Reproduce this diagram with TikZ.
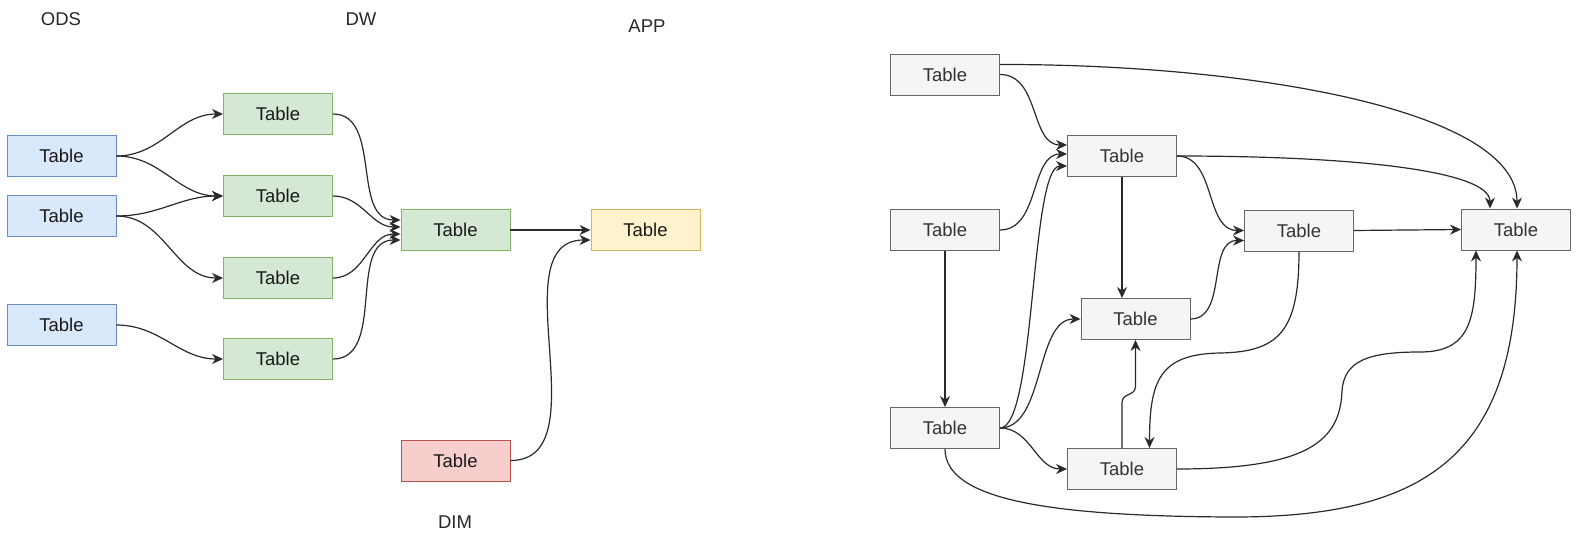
\documentclass[tikz,border=0pt]{standalone}
\usepackage{fontspec}
\setmainfont{Liberation Sans}
\usetikzlibrary{arrows.meta}
\definecolor{bfill}{HTML}{DAE8FC}\definecolor{bline}{HTML}{6C8EBF}
\definecolor{gfill}{HTML}{D5E8D4}\definecolor{gline}{HTML}{82B366}
\definecolor{yfill}{HTML}{FFF2CC}\definecolor{yline}{HTML}{D6B656}
\definecolor{rfill}{HTML}{F8CECC}\definecolor{rline}{HTML}{B85450}
\definecolor{sfill}{HTML}{F5F5F5}\definecolor{sline}{HTML}{666666}
\definecolor{stext}{HTML}{333333}\definecolor{edge}{HTML}{2A2A2A}
\tikzset{
  tbl/.style={draw, line width=0.9pt, minimum width=109pt, minimum height=41pt, inner sep=0pt,
    font=\fontsize{18.5}{20}\selectfont, text=black!90},
  bluebox/.style={tbl, fill=bfill, draw=bline},
  greenbox/.style={tbl, fill=gfill, draw=gline},
  yellowbox/.style={tbl, fill=yfill, draw=yline},
  redbox/.style={tbl, fill=rfill, draw=rline},
  graybox/.style={tbl, fill=sfill, draw=sline, text=stext},
  lbl/.style={font=\fontsize{18.5}{20}\selectfont, text=black!85, inner sep=0pt},
  arr/.style={draw=edge, line width=1.2pt, -{Stealth[length=11pt,width=10pt,inset=3.5pt]}}
}
\begin{document}
\begin{tikzpicture}[x=1pt,y=-1pt]
\useasboundingbox (0,0) rectangle (1583,543);
% ---------- left diagram ----------
\node[lbl] (lods) at (61,19.5) {ODS};
\node[lbl] (ldw) at (361,19.5) {DW};
\node[lbl] (lapp) at (647,26) {APP};
\node[lbl] (ldim) at (455,522.5) {DIM};
\node[bluebox] (o1) at (61.5,156) {Table};
\node[bluebox] (o2) at (61.5,216) {Table};
\node[bluebox] (o3) at (61.5,325) {Table};
\node[greenbox] (w1) at (278,114) {Table};
\node[greenbox] (w2) at (278,196) {Table};
\node[greenbox] (w3) at (278,278) {Table};
\node[greenbox] (w4) at (278,359) {Table};
\node[greenbox] (wm) at (455.5,230) {Table};
\node[yellowbox] (app) at (645.5,230) {Table};
\node[redbox] (dim) at (455.5,460.5) {Table};
\draw[arr] (o1.east) to[out=0,in=180] (w1.west);
\draw[arr] (o1.east) to[out=0,in=180] (w2.west);
\draw[arr] (o2.east) to[out=0,in=180] (w2.west);
\draw[arr] (o2.east) to[out=0,in=180] (w3.west);
\draw[arr] (o3.east) to[out=0,in=180] (w4.west);
\draw[arr] (w1.east) to[out=0,in=180] ([yshift=10pt]wm.west);
\draw[arr] (w2.east) to[out=0,in=180] ([yshift=3pt]wm.west);
\draw[arr] (w3.east) to[out=0,in=180] ([yshift=-4pt]wm.west);
\draw[arr] (w4.east) to[out=0,in=180] ([yshift=-10pt]wm.west);
\draw[arr] (wm.east) -- (app.west);
\draw[arr] (dim.east) to[out=0,in=180] ([yshift=-10pt]app.west);
% ---------- right diagram ----------
\node[graybox] (ra) at (945,74.5) {Table};
\node[graybox] (rb) at (1122,156) {Table};
\node[graybox] (rc) at (945,230) {Table};
\node[graybox] (rd) at (1299,230.5) {Table};
\node[graybox] (re) at (1516,229.5) {Table};
\node[graybox] (rf) at (1135.5,319) {Table};
\node[graybox] (rg) at (945,428) {Table};
\node[graybox] (rh) at (1122,469) {Table};
\coordinate (hf1) at (1122,403);
\coordinate (hf2) at (1135.5,386);
\coordinate (dh) at (1220,353);
\coordinate (he1) at (1342,391);
\coordinate (he2) at (1420,352);
\coordinate (ge) at (1229,517);
% edges
\draw[arr] ([yshift=10pt]ra.east) .. controls (1250,64) and (1517,110) .. ([xshift=1pt]re.north);
\draw[arr] (ra.east) .. controls (1040,74.5) and (1030,145) .. ([yshift=11pt]rb.west);
\draw[arr] (rc.east) .. controls (1040,230) and (1030,154) .. ([yshift=2pt]rb.west);
\draw[arr] (rg.east) .. controls (1036,428) and (1030,166) .. ([yshift=-10pt]rb.west);
\draw[arr] (rb.east) .. controls (1350,156) and (1490,170) .. ([xshift=-26pt]re.north);
\draw[arr] (rb.east) to[out=0,in=180] (rd.west);
\draw[arr] (rf.east) to[out=0,in=180] ([yshift=-10pt]rd.west);
\draw[arr] (rd.east) -- (re.west);
\draw[arr] (rb.south) -- (rb.south |- rf.north);
\draw[arr] (rc.south) -- (rg.north);
\draw[arr] (rg.east) .. controls (1045,428) and (1035,319) .. (rf.west);
\draw[arr] (rg.east) to[out=0,in=180] (rh.west);
\draw[arr] (rh.north) -- (hf1) .. controls (1122,392) and (1135.5,397) .. (hf2) -- (rf.south);
\draw[arr] (rd.south) .. controls (1299,330) and (1280,352) .. (dh) .. controls (1160,354) and (1149.5,380) .. ([xshift=27.5pt]rh.north);
\draw[arr] (rh.east) .. controls (1310,469) and (1340,440) .. (he1) .. controls (1344,360) and (1370,352) .. (he2) .. controls (1470,352) and (1476,320) .. ([xshift=-40pt]re.south);
\draw[arr] (rg.south) .. controls (945,500) and (1050,516) .. (ge) .. controls (1420,518) and (1517,460) .. ([xshift=1pt]re.south);
\end{tikzpicture}
\end{document}
